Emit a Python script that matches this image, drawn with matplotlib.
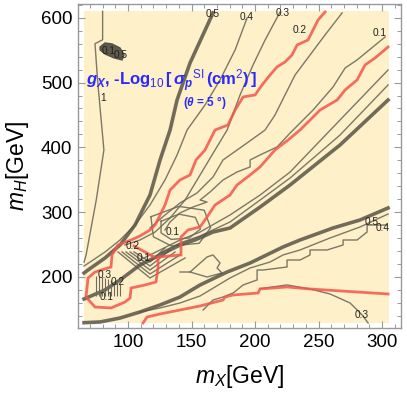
import matplotlib
matplotlib.use("Agg")
import matplotlib.pyplot as plt
from matplotlib.ticker import MultipleLocator

plt.rcParams['font.family'] = ['Liberation Sans', 'DejaVu Sans']
plt.rcParams['mathtext.fontset'] = 'custom'
plt.rcParams['mathtext.rm'] = 'Liberation Sans'
plt.rcParams['mathtext.it'] = 'Liberation Sans:italic'
plt.rcParams['mathtext.bf'] = 'Liberation Sans:bold:italic'

# ---- plot region (GeV) ----
X_RANGE = [65.4, 305.4]
Y_RANGE = [129.0, 610.5]

# ---- contour "1" ----
ONE_X = [80, 80, 74, 76, 81, 75, 67, 65.4]
ONE_Y = [610, 566, 560, 504, 396, 319, 234, 223]

# ---- upper thick 0.5 ----
T1_X = [166.9, 148.8, 138.6, 133.1, 125.2, 117.3, 105.5, 93.7, 81.9, 68.5, 65.4]
T1_Y = [607.4, 530.2, 473.1, 426.8, 380.5, 326.5, 280.2, 249.4, 229.3, 210.8, 206.2]

# ---- 0.4 ----
L04_X = [193.7, 184.3, 172.4, 160.6, 146.5, 138.6, 129.1, 117.3, 105.5, 93.7, 81.9, 70.1, 65.4]
L04_Y = [599.7, 550.3, 504.0, 465.4, 426.8, 388.3, 349.7, 311.1, 280.2, 257.1, 238.6, 223.1, 217.0]

# ---- 0.3 ----
L03_X = [219.7, 207.9, 198.4, 188.2, 178.0, 168.5, 156.7, 144.9, 133.1, 121.3, 109.4, 97.6]
L03_Y = [608.9, 565.7, 527.2, 480.9, 426.8, 396.0, 357.4, 318.8, 291.0, 269.4, 257.1, 249.4]

# ---- 0.2 ----
L02_X = [268.5, 255.1, 243.3, 231.5, 223.6, 215.7, 207.9, 193.7, 174.8, 166.9, 154.3, 140.9, 129.1, 117.3]
L02_Y = [607.4, 573.5, 542.6, 511.7, 480.9, 450.0, 426.8, 406.8, 380.6, 354.3, 329.6, 314.2, 295.7, 275.6]

# ---- 0.1 (upper) ----
L01_X = [302.4, 280.3, 270.9, 261.4, 245.7, 227.6, 217.3, 203.9, 196.1, 196.1, 185.8, 174.8, 164.6, 156.7, 162.2, 151.2, 140.9, 133.1, 129.1]
L01_Y = [570.4, 534.9, 522.5, 493.2, 457.7, 422.2, 400.6, 388.3, 380.6, 369.8, 362.0, 349.7, 331.2, 318.8, 315.7, 308.0, 298.8, 284.9, 272.5]

# ---- red constraint (main) ----
RED_X = [255.1, 249.6, 241.7, 233.1, 229.1, 223.6, 217.3, 211.8, 205.5, 200.0, 190.6, 184.3, 178.7, 168.5,
         160.6, 153.5, 148.8, 140.9, 133.1, 129.1, 125.2, 121.3, 117.3, 109.4, 102.4, 92.1, 87.4, 86.6,
         74.0, 68.5, 66.9, 74.0, 86.6, 97.6, 101.6, 102.4, 113.4, 122.0, 123.6, 123.6, 141.7, 141.7,
         147.2, 156.7, 162.2, 168.5, 180.3, 185.8, 196.1, 203.9, 215.7, 226.0, 235.4, 245.7, 251.2,
         264.6, 270.9, 280.3, 286.6, 294.5, 304.7]
RED_Y = [608.9, 596.6, 565.7, 558.0, 542.6, 531.8, 524.1, 511.7, 496.3, 480.9, 477.8, 457.7, 434.6, 426.8,
         396.0, 380.5, 357.4, 349.7, 334.2, 311.1, 295.7, 280.2, 272.5, 263.3, 257.1, 249.4, 234.0, 215.4,
         207.7, 198.5, 169.1, 153.7, 152.2, 161.4, 167.6, 183.0, 187.7, 192.3, 213.9, 230.9, 234.0, 261.7,
         272.5, 277.2, 292.6, 311.1, 326.5, 342.0, 357.4, 369.8, 396.0, 411.4, 426.8, 446.9, 457.7,
         473.1, 488.6, 504.0, 527.2, 538.0, 554.9]
RED2_X = [104.7, 120.5]
RED2_Y = [247.8, 230.9]

# ---- lines below red (upper fan) ----
G2_X = [304.7, 266.9, 227.6, 204.0, 180.3, 156.7, 140.9, 125.2, 109.4]
G2_Y = [519.4, 442.3, 362.0, 326.5, 295.7, 269.4, 257.1, 241.7, 226.2]
G3_X = [304.7, 266.9, 227.6, 204.0, 180.3, 156.7, 140.9, 125.2]
G3_Y = [496.3, 419.1, 352.8, 318.8, 284.9, 263.3, 252.5, 237.1]
T2_X = [304.7, 266.9, 227.6, 204.0, 180.3, 166.9, 152.7, 140.9, 125.2, 109.4, 93.7, 81.9, 65.4]
T2_Y = [473.1, 403.7, 342.0, 308.0, 275.6, 269.4, 257.1, 249.4, 234.0, 218.5, 195.4, 180.0, 166.1]

# ---- lower fan ----
T3_X = [304.7, 282.7, 261.4, 235.4, 222.0, 196.1, 178.0, 156.7, 140.9, 125.2, 109.4, 93.7, 78.0, 65.4]
T3_Y = [306.5, 288.0, 275.6, 257.1, 246.3, 221.6, 207.7, 187.7, 169.1, 156.8, 146.0, 136.7, 130.6, 129.5]
S1_X = [304.7, 282.7, 259.0, 235.4, 222.0, 211.8, 196.1, 180.3, 164.6, 156.7, 140.9, 125.2, 109.4]
S1_Y = [297.2, 277.2, 260.2, 241.7, 234.0, 223.1, 213.9, 198.5, 180.0, 170.7, 159.9, 152.2, 146.0]
S2_X = [303.9, 288.2, 288.2, 280.3, 269.3, 269.3, 256.7, 243.3, 243.3, 235.4, 225.2, 225.2, 206.3, 201.6,
        201.6, 190.6, 182.7, 174.8, 166.9, 159.1]
S2_Y = [280.2, 280.2, 269.4, 257.1, 257.1, 249.4, 241.7, 241.7, 234.0, 226.2, 226.2, 215.4, 210.8, 210.8,
        195.4, 187.7, 175.3, 169.1, 164.5, 149.1]
RED3_X = [304.7, 243.3, 225.2, 203.9, 202.4, 182.7, 176.4, 174.8, 156.7, 140.9, 125.2, 115.0, 111.8]
RED3_Y = [173.8, 181.5, 184.6, 181.5, 175.3, 172.2, 169.1, 164.5, 155.3, 149.1, 142.9, 138.3, 129.0]
C03_X = [203.9, 225.2, 243.3, 259.0, 274.8, 284.3, 289.0]
C03_Y = [182.0, 187.7, 181.5, 173.8, 159.9, 141.4, 129.0]

# ---- small loop in the lower fan ----
LOOP_X = [140.9, 148.8, 162.2, 166.9, 172.4, 170.1, 174.0, 162.2, 148.8]
LOOP_Y = [207.7, 207.7, 230.9, 234.0, 221.6, 213.9, 206.2, 200.0, 207.7]

# ---- nested loops around inner "0.1" ----
IN1_X = [126.0, 140.0, 153.0, 157.0, 148.0, 134.0, 126.0, 126.0]
IN1_Y = [286.0, 297.0, 292.0, 274.0, 260.0, 258.0, 268.0, 286.0]
IN2_X = [118.0, 140.0, 160.0, 165.0, 156.0, 134.0, 120.0, 118.0]
IN2_Y = [293.0, 309.0, 303.0, 276.0, 252.0, 248.0, 262.0, 293.0]

# ---- funnel between the two red boxes ----
V1_X = [92.1, 117.3, 144.9]
V1_Y = [238.6, 198.5, 229.3]
V2_X = [95.3, 117.3, 140.9]
V2_Y = [238.6, 204.6, 234.0]
V3_X = [98.4, 117.3, 137.0]
V3_Y = [238.6, 210.8, 238.6]
V4_X = [101.6, 117.3, 133.1]
V4_Y = [238.6, 217.0, 241.7]
V5_X = [104.7, 117.3, 129.1]
V5_Y = [238.6, 223.1, 244.8]

# ---- stripes in lower-left box ----
STRIPE_X = [74.8, 77.2, 79.5, 81.9, 84.3, 86.6, 89.0, 91.3, 93.7]
STRIPE_Y0 = [171.0, 171.0, 171.0, 171.0, 171.0, 171.0, 171.0, 171.0, 171.0]
STRIPE_Y1 = [202.0, 201.0, 200.0, 199.0, 197.0, 195.0, 193.0, 191.0, 189.0]

# ---- blob near top-left ----
BLOB_X = [78.0, 81.9, 87.4, 93.7, 96.9, 95.3, 89.0, 81.9, 78.0]
BLOB_Y = [555.0, 561.1, 559.6, 553.4, 542.6, 534.9, 538.0, 544.1, 550.3]

# ---- contour labels ----
LAB_TEXT = ["0.5", "0.4", "0.3", "0.2", "0.1", "1", "0.1", "0.2", "0.1", "0.3", "0.2", "0.1", "0.5", "0.4", "0.3",
            "0.1", "0.5"]
LAB_X = [166.9, 193.7, 222.0, 235.4, 298.4, 80.3, 135.4, 103.9, 112.6, 81.9, 92.1, 83.5, 292.1, 300.8, 284.3,
         84.5, 94.5]
LAB_Y = [605.9, 601.2, 607.4, 581.2, 576.5, 476.2, 269.4, 247.8, 229.3, 203.1, 192.3, 169.1, 284.9, 275.6, 141.4,
         549.0, 543.0]

X_TICKS = [100, 150, 200, 250, 300]
Y_TICKS = [200, 300, 400, 500, 600]

GRAY = '#6e6a5c'
DARK = '#595446'
RED = '#f2564c'

fig = plt.figure(figsize=(4.07, 3.97), dpi=100)
ax = fig.add_axes([0.1916, 0.1738, 0.7937, 0.8161])
ax.set_xlim(60.6, 314.9)
ax.set_ylim(121.3, 621.2)

ax.fill_between(X_RANGE, [Y_RANGE[0]] * 2, [Y_RANGE[1]] * 2, color='#fef0c8', lw=0, zorder=0)

thin = dict(color=GRAY, lw=1.0, alpha=0.9, zorder=2)
thick = dict(color=DARK, lw=2.6, alpha=0.85, zorder=2)

for xs, ys in [(ONE_X, ONE_Y), (L04_X, L04_Y), (L03_X, L03_Y), (L02_X, L02_Y), (L01_X, L01_Y),
               (G2_X, G2_Y), (G3_X, G3_Y), (S1_X, S1_Y), (S2_X, S2_Y), (C03_X, C03_Y),
               (LOOP_X, LOOP_Y), (IN1_X, IN1_Y), (IN2_X, IN2_Y),
               (V1_X, V1_Y), (V2_X, V2_Y), (V3_X, V3_Y), (V4_X, V4_Y), (V5_X, V5_Y)]:
    ax.plot(xs, ys, **thin)
for xs, ys in [(T1_X, T1_Y), (T2_X, T2_Y), (T3_X, T3_Y)]:
    ax.plot(xs, ys, **thick)
ax.vlines(STRIPE_X, STRIPE_Y0, STRIPE_Y1, color=GRAY, lw=0.8, zorder=2)
ax.fill(BLOB_X, BLOB_Y, color='#4d4a40', alpha=0.9, zorder=2)

for xs, ys in [(RED_X, RED_Y), (RED2_X, RED2_Y), (RED3_X, RED3_Y)]:
    ax.plot(xs, ys, color=RED, lw=2.0, alpha=0.85, zorder=3, solid_joinstyle='miter')

for t, x, y in zip(LAB_TEXT, LAB_X, LAB_Y):
    ax.text(x, y, t, fontsize=7.3, ha='center', va='center', color='#222222', zorder=4)

ax.text(66.9, 503, r"$\mathbf{g_X}$, -Log$_{10}$$\,$[$\,\mathbf{\sigma_p}$$^{\rm SI}$$\,$(cm$^2$)$\,$]",
        color='#2a2aff', fontsize=12, fontweight='bold', ha='left', va='center', zorder=5)
ax.text(143.5, 469, r"($\mathbf{\theta}$ = 5 °)", color='#2a2aff', fontsize=8.5, fontweight='bold',
        ha='left', va='center', zorder=5)

ax.set_xticks(X_TICKS)
ax.set_yticks(Y_TICKS)
ax.xaxis.set_minor_locator(MultipleLocator(10))
ax.yaxis.set_minor_locator(MultipleLocator(20))
ax.tick_params(which='both', direction='in', top=True, right=True, color='#999999', labelsize=13.5,
               labelcolor='black')
ax.tick_params(which='major', length=5, width=0.8, pad=4)
ax.tick_params(which='minor', length=3, width=0.7)
for s in ax.spines.values():
    s.set_color('#999999')
    s.set_linewidth(1.0)

ax.set_xlabel(r"$m_X$[GeV]", fontsize=16.5, va='center')
ax.set_ylabel(r"$m_H$[GeV]", fontsize=16.5, va='center', ha='center')
ax.xaxis.set_label_coords(0.5, -0.151)
ax.yaxis.set_label_coords(-0.186, 0.5)

fig.savefig("out.png", dpi=100)
